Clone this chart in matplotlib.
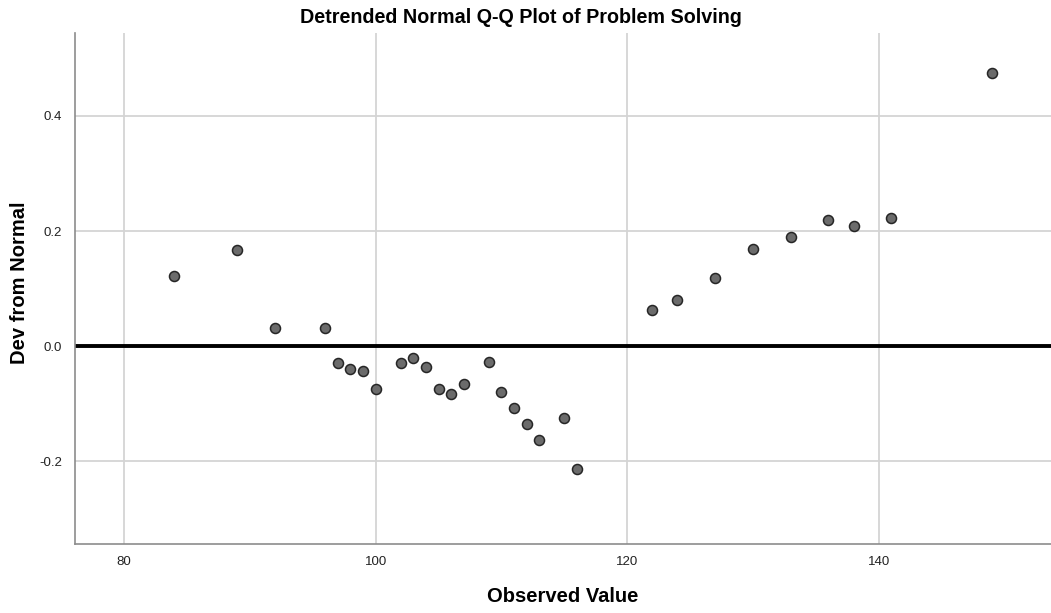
import numpy as np
import matplotlib
matplotlib.use("Agg")
import matplotlib.pyplot as plt

plt.rcParams['font.family'] = ['Liberation Sans', 'DejaVu Sans']

observed = [84, 89, 92, 96, 97, 98, 99, 100, 102, 103, 104, 105, 106, 107,
            109, 110, 111, 112, 113, 115, 116, 122, 124, 127, 130, 133, 136,
            138, 141, 149]
dev_from_normal = [0.122, 0.167, 0.031, 0.031, -0.030, -0.040, -0.043, -0.075,
                   -0.030, -0.021, -0.037, -0.075, -0.084, -0.066, -0.028,
                   -0.080, -0.108, -0.135, -0.164, -0.125, -0.213, 0.063,
                   0.080, 0.118, 0.169, 0.190, 0.219, 0.209, 0.223, 0.475]
x_ticks = [80, 100, 120, 140]
y_ticks = [-0.2, 0.0, 0.2, 0.4]

fig = plt.figure(figsize=(10.51, 6.13), dpi=100)
ax = fig.add_axes([0.0714, 0.1126, 0.9286, 0.8334])

ax.set_xlim(76.1, 153.7)
ax.set_ylim(-0.344, 0.544)
ax.set_xticks(x_ticks)
ax.set_yticks(y_ticks)
ax.set_xticklabels([str(t) for t in x_ticks])
ax.set_yticklabels(['%.1f' % t for t in y_ticks])

ax.grid(True, color='#d4d4d4', linewidth=1.3)
ax.set_axisbelow(True)

ax.axhline(0, color='black', linewidth=2.8, zorder=2)

ax.scatter(observed, dev_from_normal, s=52, facecolor='#6b6b6b',
           edgecolor='#262626', linewidth=1.1, zorder=3)

for side in ['top', 'right']:
    ax.spines[side].set_visible(False)
for side in ['left', 'bottom']:
    ax.spines[side].set_color('#8c8c8c')
    ax.spines[side].set_linewidth(1.2)

ax.tick_params(length=0, labelsize=9.5, colors='#222222')
ax.tick_params(axis='y', pad=9.5)
ax.tick_params(axis='x', pad=9)

# title is centred on the figure, not the axes
fig.text(0.4957, 0.972, 'Detrended Normal Q-Q Plot of Problem Solving',
         fontsize=14.2, fontweight='bold', ha='center', va='center')

ax.set_xlabel('Observed Value', fontsize=14.5, fontweight='bold')
ax.set_ylabel('Dev from Normal', fontsize=14.5, fontweight='bold')
ax.xaxis.set_label_coords(0.5, -0.102)
ax.xaxis.label.set_va('center')
ax.yaxis.set_label_coords(-0.0564, 0.512)
ax.yaxis.label.set_va('center')

fig.savefig('out.png', dpi=100)
